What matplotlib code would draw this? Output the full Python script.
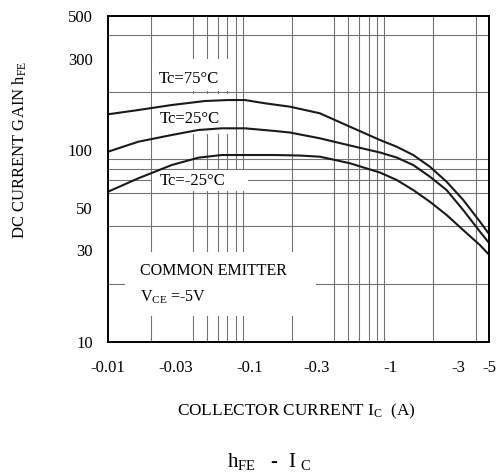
import matplotlib
matplotlib.use("Agg")
import matplotlib.pyplot as plt
from matplotlib.patches import Rectangle
from matplotlib.ticker import FixedLocator, LogLocator, NullFormatter

plt.rcParams['font.family'] = ['Liberation Serif', 'DejaVu Serif']
plt.rcParams['mathtext.default'] = 'regular'

# Collector current magnitude (A) (axis labelled negative)
ic_75 = [0.01, 0.01639, 0.02823, 0.0486, 0.07101, 0.09324, 0.1292, 0.1941, 0.3165,
         0.5161, 0.8414, 1.105, 1.448, 1.900, 2.495, 3.269, 4.292, 5.0]
hfe_75 = [153.7, 161.8, 171.8, 180.3, 182.4, 182.4, 175.4, 168.4, 155.5,
          132.4, 112.9, 104.2, 94.3, 81.9, 68.4, 55.0, 42.4, 36.4]

ic_25 = [0.01, 0.01639, 0.02823, 0.04356, 0.06377, 0.09324, 0.1520, 0.1941, 0.3165,
         0.5161, 0.8414, 1.105, 1.448, 1.900, 2.495, 3.269, 4.292, 5.0]
hfe_25 = [98.1, 110.6, 119.9, 127.3, 129.9, 129.9, 125.8, 123.5, 115.2,
          105.7, 97.2, 91.5, 83.6, 72.7, 61.9, 48.7, 37.6, 32.7]

ic_m25 = [0.01, 0.01639, 0.02823, 0.04356, 0.06377, 0.09324, 0.1520, 0.2285, 0.3165,
          0.5161, 0.8414, 1.105, 1.448, 1.900, 2.495, 3.269, 4.292, 5.0]
hfe_m25 = [60.7, 71.3, 83.6, 91.3, 94.3, 94.3, 94.3, 93.7, 92.4,
           85.4, 76.4, 69.9, 61.9, 53.8, 45.9, 38.3, 32.0, 28.4]

x_ticks = [0.01, 0.03, 0.1, 0.3, 1, 3, 5]
x_tick_labels = ["-0.01", "-0.03", "-0.1", "-0.3", "-1", "-3", "-5"]
y_ticks = [10, 30, 50, 100, 300, 500]
y_tick_labels = ["10", "30", "50", "100", "300", "500"]

W, H = 496, 475
fig = plt.figure(figsize=(W / 100, H / 100), dpi=100)
ax = fig.add_axes([108 / W, 1 - 342 / H, (489.3 - 108) / W, (342 - 16) / H])
ax.set_xscale('log')
ax.set_yscale('log')
ax.set_xlim(0.01, 5)
ax.set_ylim(10, 500)

ax.xaxis.set_major_locator(FixedLocator(x_ticks))
ax.set_xticklabels(x_tick_labels)
ax.yaxis.set_major_locator(FixedLocator(y_ticks))
ax.set_yticklabels(y_tick_labels)
ax.xaxis.set_minor_locator(LogLocator(base=10, subs=range(1, 10)))
ax.yaxis.set_minor_locator(LogLocator(base=10, subs=range(1, 10)))
ax.xaxis.set_minor_formatter(NullFormatter())
ax.yaxis.set_minor_formatter(NullFormatter())
ax.tick_params(which='both', length=0)
ax.tick_params(axis='x', pad=13, labelsize=12)
ax.tick_params(axis='y', pad=11, labelsize=12)
ax.grid(False, which='major')
ax.grid(True, which='minor', color='0.45', linewidth=0.8)
ax.set_axisbelow('line')

for s in ax.spines.values():
    s.set_linewidth(1.4)
    s.set_color('black')
    s.set_zorder(5)

# white masks behind annotations
masks = [
    (0.0205, 0.0785, 203, 297),
    (0.0205, 0.0785, 122, 197),
    (0.0205, 0.098, 61, 79),
    (0.0132, 0.295, 13.7, 29.4),
]
for x0, x1, y0, y1 in masks:
    ax.add_patch(Rectangle((x0, y0), x1 - x0, y1 - y0, facecolor='white',
                           edgecolor='none', zorder=2))

for xs, ys in [(ic_75, hfe_75), (ic_25, hfe_25), (ic_m25, hfe_m25)]:
    ax.plot(xs, ys, color='#1a1a1a', linewidth=1.5, zorder=3,
            solid_joinstyle='round')

ax.text(0.0227, 234, "Tc=75°C", fontsize=12, ha='left', va='center', zorder=4)
ax.text(0.0231, 145, "Tc=25°C", fontsize=12, ha='left', va='center', zorder=4)
ax.text(0.0231, 69.3, "Tc=-25°C", fontsize=12, ha='left', va='center', zorder=4)
ax.text(0.0168, 23.5, "COMMON EMITTER", fontsize=11.5, ha='left', va='center', zorder=4)
ax.text(0.0168, 17.2, r"V$_{CE}$ =-5V", fontsize=11.5, ha='left', va='center', zorder=4)

fig.text(20 / W, 1 - 150 / H, r"DC CURRENT GAIN h$_{FE}$", rotation=90,
         ha='center', va='center', fontsize=12)
fig.text(296 / W, 1 - 411 / H, r"COLLECTOR CURRENT I$_{C}$  (A)",
         ha='center', va='center', fontsize=12.4)
fig.text(269 / W, 1 - 462 / H, r"h$_{FE}$   -  I $_{C}$",
         ha='center', va='center', fontsize=15)

fig.savefig("out.png", dpi=100)
